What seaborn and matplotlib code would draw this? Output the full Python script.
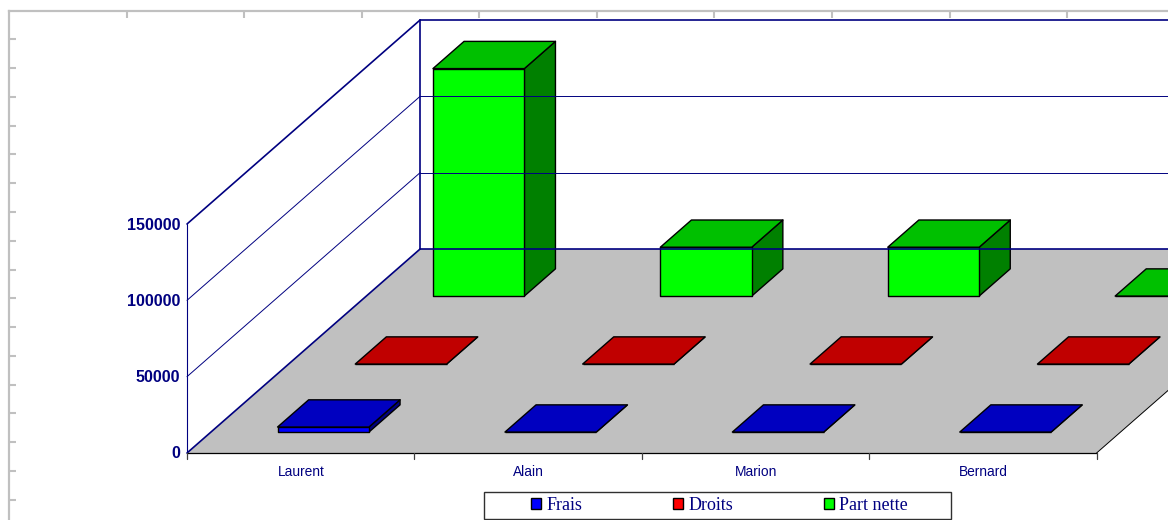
import pandas as pd
import matplotlib
matplotlib.use('Agg')
import matplotlib.pyplot as plt
from matplotlib.patches import Polygon, Rectangle
import seaborn as sns

# values
people = ['Laurent', 'Alain', 'Marion', 'Bernard']
series_names = ['Frais', 'Droits', 'Part nette']
frais = [3300, 0, 0, 0]
droits = [0, 0, 0, 0]
part_nette = [149000, 32000, 32000, 0]
value_ticks = [0, 50000, 100000, 150000]

front_colors = ['#0000ff', '#ff0000', '#00ff00']
top_colors = ['#0000c0', '#c00000', '#00c000']
side_colors = ['#000080', '#800000', '#008000']

NAVY = '#000080'
FRAME = '#c0c0c0'

df = pd.DataFrame({'name': people, 'Frais': frais, 'Droits': droits, 'Part nette': part_nette})
df = df.melt(id_vars='name', var_name='serie', value_name='value')

sns.set_theme(style='white')
plt.rcParams['font.family'] = ['Liberation Sans', 'DejaVu Sans']


# oblique projection, same as the old spreadsheet 3d view
# cat = category position, row = series position (depth), val = height
def project(cat, row, val):
    x = 187 + cat * 227.4 + row * 77.7
    y = 453 - row * 68 - val * 229 / 150000
    return x, y


def draw_bar(ax, cat, row, val, i):
    w = 0.402
    d = 0.4
    x0 = cat + (1 - w) / 2 - 0.006
    x1 = x0 + w
    r0 = row + (1 - d) / 2 + 0.008
    r1 = r0 + d

    front = [project(x0, r0, 0), project(x1, r0, 0), project(x1, r0, val), project(x0, r0, val)]
    top = [project(x0, r0, val), project(x1, r0, val), project(x1, r1, val), project(x0, r1, val)]
    side = [project(x1, r0, 0), project(x1, r1, 0), project(x1, r1, val), project(x1, r0, val)]

    for pts, col in [(side, side_colors[i]), (front, front_colors[i]), (top, top_colors[i])]:
        ax.add_patch(Polygon(pts, closed=True, facecolor=col, edgecolor='black', lw=1.0,
                             joinstyle='round', clip_on=True))


fig, ax = plt.subplots(figsize=(11.68, 5.2), dpi=100)
ax.set_position([0, 0, 1, 1])
ax.set_xlim(0, 1168)
ax.set_ylim(520, 0)

# page frame with its ticks
sns.despine(ax=ax, top=False, left=False, right=True, bottom=True)
ax.spines['top'].set_position(('data', 11))
ax.spines['left'].set_position(('data', 9))
ax.spines['top'].set_color(FRAME)
ax.spines['left'].set_color(FRAME)
ax.spines['top'].set_linewidth(1.6)
ax.spines['left'].set_linewidth(1.6)
ax.spines['left'].set_bounds(11, 520)
ax.spines['top'].set_bounds(9, 1168)
ax.set_xticks([127, 244, 362, 479, 597, 714, 832, 950, 1067])
ax.set_yticks([39, 68, 97, 126, 154, 183, 212, 241, 270, 298, 327, 356, 385, 413, 442, 471, 500])
ax.tick_params(axis='x', direction='in', bottom=False, top=True, labelbottom=False, labeltop=False,
               length=5, width=1.5, color=FRAME)
ax.tick_params(axis='y', direction='in', left=True, right=False, labelleft=False,
               length=5, width=1.5, color=FRAME)

n = len(people)
n_rows = len(series_names)

# floor
floor = [project(0, 0, 0), project(n, 0, 0), project(n, n_rows, 0), project(0, n_rows, 0)]
ax.add_patch(Polygon(floor, closed=True, facecolor='#c0c0c0', edgecolor='none'))

# walls
for v in value_ticks:
    heavy = v in (0, value_ticks[-1])
    lw = 1.2 if heavy else 0.7
    a = project(0, 0, v)
    b = project(0, n_rows, v)
    c = project(n, n_rows, v)
    ax.plot([a[0], b[0]], [a[1], b[1]], color=NAVY, lw=lw, zorder=1.5)
    ax.plot([b[0], c[0]], [b[1], c[1]], color=NAVY, lw=lw, zorder=1.5)
    ax.text(a[0] - 7, a[1] + 1, str(v), ha='right', va='center', color=NAVY,
            fontsize=11.6, fontweight='bold')

top_left = project(0, 0, value_ticks[-1])
top_back = project(0, n_rows, value_ticks[-1])
ax.plot([top_left[0], top_left[0]], [top_left[1], 453], color=NAVY, lw=0.8, zorder=1.5)
ax.plot([top_back[0], top_back[0]], [top_back[1], project(0, n_rows, 0)[1]], color=NAVY, lw=1.2, zorder=1.5)

# front edge and right edge of the floor
ax.plot([floor[0][0], floor[1][0]], [floor[0][1], floor[1][1]], color='black', lw=0.9, zorder=1.6)
ax.plot([floor[1][0], floor[2][0]], [floor[1][1], floor[2][1]], color='black', lw=0.7, zorder=1.6)
for k in range(n + 1):
    tx, ty = project(k, 0, 0)
    ax.plot([tx, tx], [ty, ty + 6], color='#404040', lw=0.9, zorder=1.6)

for k, name in enumerate(people):
    tx, ty = project(k + 0.5, 0, 0)
    ax.text(tx + 0.5, ty + 18.5, name, ha='center', va='center', color=NAVY, fontsize=9.9)

# bars back to front
for i in reversed(range(n_rows)):
    sub = df[df['serie'] == series_names[i]]
    for k, val in enumerate(sub['value']):
        draw_bar(ax, k, i, val, i)

# legend
ax.add_patch(Rectangle((483.5, 491.5), 467, 27, facecolor='white', edgecolor='#303030', lw=1.0, zorder=3))
handles = [Rectangle((0, 0), 1, 1, facecolor=front_colors[i], edgecolor='black', lw=1.0)
           for i in range(n_rows)]
leg = ax.legend(handles, series_names, ncol=3, frameon=False, loc='center',
                bbox_to_anchor=(719.5 / 1168, 1 - 505 / 520), handlelength=0.55, handleheight=0.55,
                handletextpad=0.28, columnspacing=5.05, borderpad=0,
                prop={'family': 'Liberation Serif', 'size': 13})
leg.set_zorder(4)
for t in leg.get_texts():
    t.set_color(NAVY)

fig.savefig('out.png', dpi=100)
